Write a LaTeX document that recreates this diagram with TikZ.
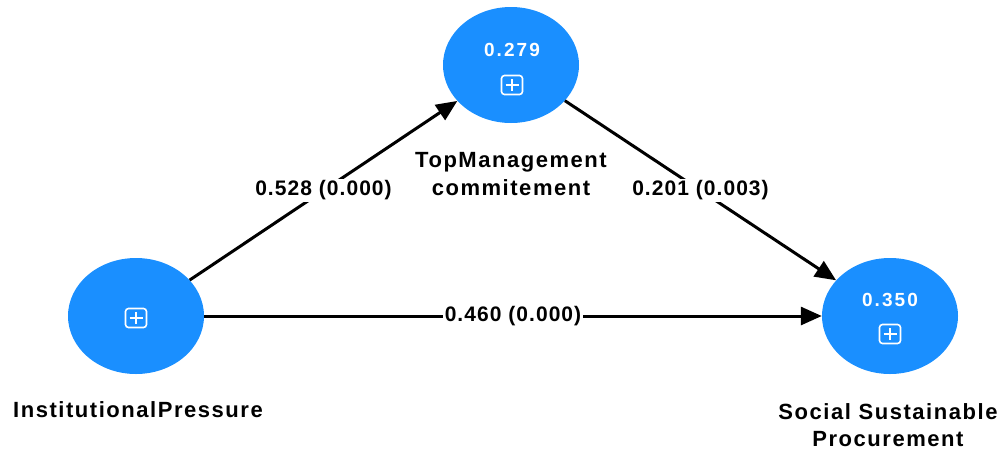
\documentclass[tikz,border=0pt]{standalone}
\usepackage{fontspec}
\newfontfamily\lblfont{Liberation Sans}[LetterSpace=7]
\newfontfamily\numfont{Liberation Sans}[LetterSpace=5]
\newfontfamily\rsqfont{Liberation Sans}[LetterSpace=11]
\usetikzlibrary{arrows.meta,shapes.geometric}
\definecolor{latentblue}{RGB}{26,143,255}
\tikzset{
  x=1pt, y=-1pt,
  latent/.style={ellipse, fill=latentblue, minimum width=136pt, minimum height=116pt, inner sep=0pt},
  constructname/.style={font=\lblfont\bfseries\fontsize{22}{27.5}\selectfont, align=center, text=black},
  rsq/.style={font=\rsqfont\bfseries\fontsize{19}{20}\selectfont, text=white},
  pathlabel/.style={font=\numfont\bfseries\fontsize{21}{22}\selectfont, fill=white, inner sep=2pt, text=black},
  structpath/.style={line width=3pt, draw=black, -{Triangle[length=21pt,width=18pt]}},
  expander/.pic={
    \draw[white, line width=1.6pt, rounded corners=3pt] (-10.5,-9.5) rectangle (10.5,9.5);
    \draw[white, line width=1.6pt] (-6.5,0) -- (6.5,0) (0,-6) -- (0,6);
  }
}
\begin{document}
\begin{tikzpicture}
  \useasboundingbox (0,0) rectangle (1005,456);

  % latent variables
  \node[latent] (tmc) at (511,65) {};
  \node[latent] (ip)  at (136,316) {};
  \node[latent] (ssp) at (890,316) {};

  % R-squared values and expand icons
  \node[rsq] (tmcr) at (512,50) {0.279};
  \pic at (512,85) {expander};
  \pic at (136,318) {expander};
  \node[rsq] (sspr) at (890,300) {0.350};
  \pic at (890,334) {expander};

  % construct names
  \node[constructname] (tmcname) at (511,174) {TopManagement\\commitement};
  \node[constructname] (ipname)  at (138,410) {InstitutionalPressure};
  \node[constructname] (sspname) at (888,425) {Social Sustainable\\Procurement};

  % structural paths
  \draw[structpath] (ip) -- node[pathlabel] (l1) {0.528 (0.000)} (tmc);
  \draw[structpath] (tmc) -- node[pathlabel] (l2) {0.201 (0.003)} (ssp);
  \draw[structpath] (ip) -- node[pathlabel] (l3) {0.460 (0.000)} (ssp);
\end{tikzpicture}
\end{document}
